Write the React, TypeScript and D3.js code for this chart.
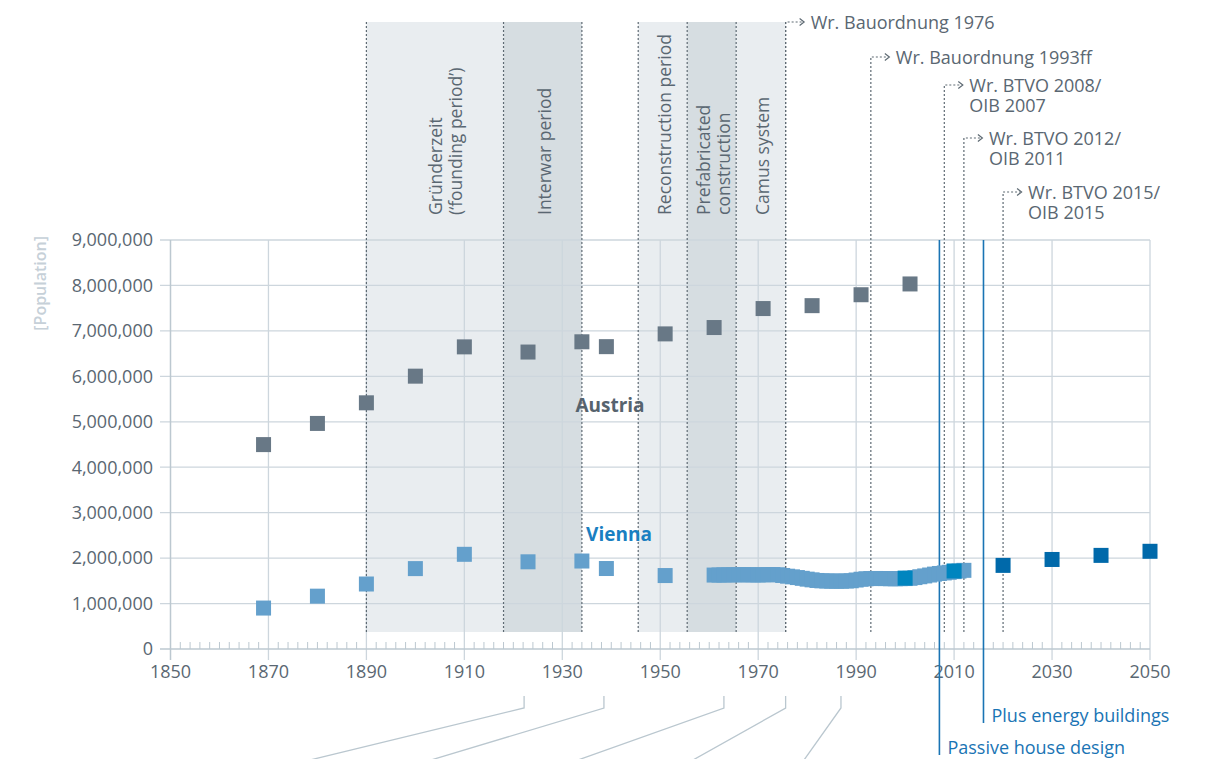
import { useEffect } from "react";
import * as d3 from "d3";

// census years / population
const austriaYears = [1869, 1880, 1890, 1900, 1910, 1923, 1934, 1939, 1951, 1961, 1971, 1981, 1991, 2001];
const austriaPop = [4497880, 4963528, 5417360, 6003845, 6648310, 6534481, 6760233, 6653321, 6933905, 7073807, 7491526, 7555338, 7795786, 8032926];

const viennaCensusYears = [1869, 1880, 1890, 1900, 1910, 1923, 1934, 1939, 1951];
const viennaCensusPop = [900998, 1162591, 1430213, 1769137, 2083630, 1918720, 1935881, 1770938, 1616125];

// yearly Vienna series (drawn as overlapping squares -> thick band)
const viennaAnnualYears = d3.range(1961, 2013);
const viennaAnnualPop = [
  1627000, 1628000, 1630000, 1632000, 1633000, 1634000, 1634000, 1633000, 1632000, 1630000,
  1632000, 1636000, 1638000, 1634000, 1618000, 1602000, 1588000, 1572000, 1555000, 1537000,
  1522000, 1508000, 1500000, 1496000, 1494000, 1493000, 1493000, 1496000, 1502000, 1518000,
  1535000, 1545000, 1550000, 1552000, 1551000, 1549000, 1547000, 1546000, 1548000, 1550000,
  1556000, 1572000, 1590000, 1608000, 1628000, 1648000, 1662000, 1674000, 1688000, 1703000,
  1715000, 1731000,
];

const viennaRecentYears = [2000, 2010];
const viennaRecentPop = [1560000, 1717000];

const viennaForecastYears = [2020, 2030, 2040, 2050];
const viennaForecastPop = [1840000, 1970000, 2060000, 2150000];

// historic periods
const periodStart = [1890, 1918, 1945.5, 1955.5, 1965.5];
const periodEnd = [1918, 1934, 1955.5, 1965.5, 1975.6];
const periodDark = [false, true, false, true, false];
const periodLabels = [
  ["Gründerzeit", "(‘founding period’)"],
  ["Interwar period"],
  ["Reconstruction period"],
  ["Prefabricated", "construction"],
  ["Camus system"],
];
const periodLabelShift = [9, 0, 0, 0, 0];

// building regulations
const regYears = [1975.6, 1993, 2008, 2012, 2020];
const regLabels = [
  ["Wr. Bauordnung 1976"],
  ["Wr. Bauordnung 1993ff"],
  ["Wr. BTVO 2008/", "OIB 2007"],
  ["Wr. BTVO 2012/", "OIB 2011"],
  ["Wr. BTVO 2015/", "OIB 2015"],
];
const regArrowY = [22, 57, 85, 138, 192];

// energy standards (blue markers below axis)
const standardYears = [2007, 2016];
const standardLabels = ["Passive house design", "Plus energy buildings"];
const standardBottom = [755, 723];

// leader lines to labels below the chart (cut off)
const leaderYears = [1922.2, 1938.5, 1963, 1975.6, 1986.9];
const leaderEndX = [310, 431, 578, 693, 804];

const FONT = "'Open Sans', 'Noto Sans', sans-serif";
const C = {
  grid: "#cdd6dd",
  axis: "#bcc8d0",
  text: "#5a6772",
  bandLight: "#e9edf0",
  bandDark: "#d6dde1",
  dotted: "#5e6a73",
  austria: "#687886",
  viennaLight: "#64a0cc",
  viennaMid: "#0085bf",
  viennaDark: "#0069aa",
  blue: "#1a74b4",
  leader: "#bac7cf",
};

export default function App() {
  useEffect(() => {
    document.body.style.margin = "0";
  }, []);

  const x = d3.scaleLinear().domain([1850, 2050]).range([170.5, 1150]);
  const y = d3.scaleLinear().domain([0, 9000000]).range([649, 240]);
  const yTicks = d3.range(0, 9000001, 1000000);
  const xMajor = d3.range(1850, 2051, 20);
  const xMinor = d3.range(1850, 2051, 2).filter((d) => (d - 1850) % 20 !== 0);
  const fmt = d3.format(",");
  const SQ = 15;
  const bandTop = 22;
  const bandBottom = 632;
  const edges = Array.from(new Set([...periodStart, ...periodEnd]));

  const square = (yr: number, v: number, fill: string, key: string) => (
    <rect key={key} x={x(yr) - SQ / 2} y={y(v) - SQ / 2} width={SQ} height={SQ} fill={fill} />
  );

  return (
    <svg width={1208} height={759} style={{ display: "block", fontFamily: FONT }}>
      <rect width={1208} height={759} fill="#fff" />

      {/* period bands */}
      {periodStart.map((s, i) => (
        <rect
          key={"band" + i}
          x={x(s)}
          y={bandTop}
          width={x(periodEnd[i]) - x(s)}
          height={bandBottom - bandTop}
          fill={periodDark[i] ? C.bandDark : C.bandLight}
        />
      ))}

      {/* grid */}
      {yTicks.slice(1).map((t) => (
        <line key={"gy" + t} x1={160} x2={x(2050)} y1={y(t)} y2={y(t)} stroke={C.grid} strokeWidth={1.3} />
      ))}
      {xMajor.slice(1).map((t) => (
        <line key={"gx" + t} x1={x(t)} x2={x(t)} y1={y(9000000)} y2={660} stroke={C.grid} strokeWidth={1.3} />
      ))}

      {/* axes */}
      <line x1={160} x2={x(2050)} y1={y(0)} y2={y(0)} stroke={C.axis} strokeWidth={1.5} />
      <line x1={x(1850)} x2={x(1850)} y1={y(9000000)} y2={660} stroke={C.axis} strokeWidth={1.5} />
      {xMinor.map((t) => (
        <line key={"mx" + t} x1={x(t)} x2={x(t)} y1={y(0) - 7} y2={y(0)} stroke={C.axis} strokeWidth={1} />
      ))}
      {xMajor.map((t) => (
        <text key={"xl" + t} x={x(t)} y={678} textAnchor="middle" fontSize={18} fill={C.text}>
          {t}
        </text>
      ))}
      {yTicks.map((t) => (
        <text key={"yl" + t} x={153} y={y(t)} dy="0.35em" textAnchor="end" fontSize={18} fill={C.text}>
          {fmt(t)}
        </text>
      ))}
      <text
        transform={`translate(46,236) rotate(-90)`}
        textAnchor="end"
        fontSize={16}
        fontWeight={600}
        fill="#c6d0d8"
      >
        [Population]
      </text>

      {/* period edges */}
      {edges.map((e) => (
        <line key={"edge" + e} x1={x(e)} x2={x(e)} y1={bandTop} y2={bandBottom} stroke={C.dotted} strokeWidth={1.2} strokeDasharray="2,2" />
      ))}

      {/* period labels, rotated, lines stacked left to right */}
      {periodLabels.map((lines, i) => {
        const cx = (x(periodStart[i]) + x(periodEnd[i])) / 2 + periodLabelShift[i];
        const first = cx + 8 - ((lines.length - 1) * 20) / 2;
        return (
          <text
            key={"pl" + i}
            transform={`translate(${first},215) rotate(-90)`}
            fontSize={17.5}
            fill={C.text}
          >
            {lines.map((ln, j) => (
              <tspan key={j} x={0} y={j * 20}>
                {ln}
              </tspan>
            ))}
          </text>
        );
      })}

      {/* regulations */}
      {regYears.map((r, i) => {
        const px = x(r);
        const ay = regArrowY[i];
        return (
          <g key={"reg" + i}>
            <path
              d={`M${px},${bandBottom}V${ay}H${px + 17}`}
              fill="none"
              stroke={C.dotted}
              strokeWidth={1.2}
              strokeDasharray="2,2"
            />
            <polyline
              points={`${px + 14},${ay - 3.5} ${px + 18.5},${ay} ${px + 14},${ay + 3.5}`}
              fill="none"
              stroke={C.dotted}
              strokeWidth={1.2}
            />
            <text fontSize={18} fill={C.text}>
              {regLabels[i].map((ln, j) => (
                <tspan key={j} x={px + 25} y={ay + 6.5 + j * 20}>
                  {ln}
                </tspan>
              ))}
            </text>
          </g>
        );
      })}

      {/* energy standards */}
      {standardYears.map((s, i) => (
        <g key={"std" + i}>
          <line x1={x(s)} x2={x(s)} y1={y(9000000)} y2={standardBottom[i]} stroke={C.blue} strokeWidth={1.6} />
          <text x={x(s) + 8} y={standardBottom[i] - 1} fontSize={18} fill={C.blue}>
            {standardLabels[i]}
          </text>
        </g>
      ))}

      {/* leader lines */}
      {leaderYears.map((l, i) => (
        <path
          key={"ld" + i}
          d={`M${x(l)},696V708L${leaderEndX[i]},760`}
          fill="none"
          stroke={C.leader}
          strokeWidth={1.3}
        />
      ))}

      {/* data */}
      {austriaYears.map((yr, i) => square(yr, austriaPop[i], C.austria, "a" + yr))}
      {viennaCensusYears.map((yr, i) => square(yr, viennaCensusPop[i], C.viennaLight, "vc" + yr))}
      {viennaAnnualYears.map((yr, i) => square(yr, viennaAnnualPop[i], C.viennaLight, "va" + yr))}
      {viennaRecentYears.map((yr, i) => square(yr, viennaRecentPop[i], C.viennaMid, "vr" + yr))}
      {viennaForecastYears.map((yr, i) => square(yr, viennaForecastPop[i], C.viennaDark, "vf" + yr))}

      <text x={610} y={412} textAnchor="middle" fontSize={19} fontWeight={700} fill="#56636e">
        Austria
      </text>
      <text x={619} y={541} textAnchor="middle" fontSize={19} fontWeight={700} fill="#1a7fc1">
        Vienna
      </text>
    </svg>
  );
}
